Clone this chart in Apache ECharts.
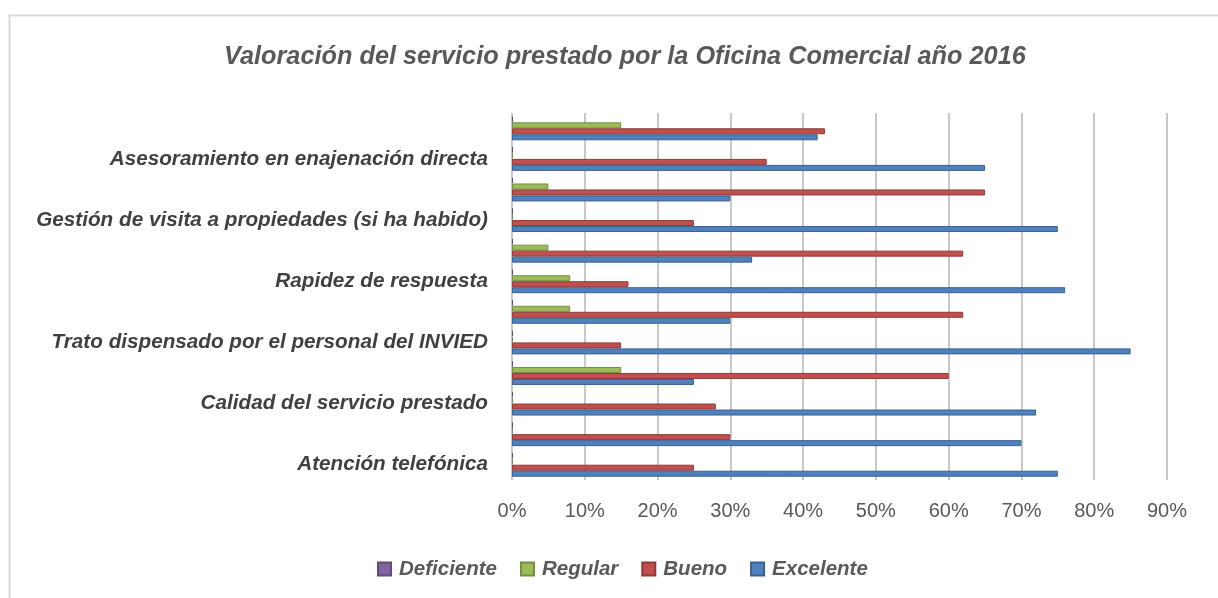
<!DOCTYPE html>
<html>
<head>
<meta charset="utf-8">
<script src="https://cdn.jsdelivr.net/npm/echarts@6/dist/echarts.min.js"></script>
<style>
  html, body { margin: 0; padding: 0; background: #fff; }
  #chart { width: 1218px; height: 598px; }
</style>
</head>
<body>
<div id="chart"></div>
<script>
// categories from bottom to top (only every other one has a visible label)
const categories = [
  'Atención telefónica', 'cat2',
  'Calidad del servicio prestado', 'cat4',
  'Trato dispensado por el personal del INVIED', 'cat6',
  'Rapidez de respuesta', 'cat8',
  'Gestión de visita a propiedades (si ha habido)', 'cat10',
  'Asesoramiento en enajenación directa', 'cat12'
]
const deficiente = [0, 0, 0, 0, 0, 0, 0, 0, 0, 0, 0, 0]
const regular = [0, 0, 0, 15, 0, 8, 8, 5, 0, 5, 0, 15]
const bueno = [25, 30, 28, 60, 15, 62, 16, 62, 25, 65, 35, 43]
const excelente = [75, 70, 72, 25, 85, 30, 76, 33, 75, 30, 65, 42]
const xTicks = [0, 10, 20, 30, 40, 50, 60, 70, 80, 90]

const chartDom = document.getElementById('chart')
const myChart = echarts.init(chartDom)

const barStyle = (color, border) => ({
  color: color,
  borderColor: border,
  borderWidth: 1
})

const option = {
  animation: false,
  title: {
    text: 'Valoración del servicio prestado por la Oficina Comercial año 2016',
    left: 219,
    top: 40,
    textStyle: {
      fontFamily: 'Liberation Sans',
      fontStyle: 'italic',
      fontWeight: 'bold',
      fontSize: 25.3,
      color: '#595959'
    }
  },
  legend: {
    data: ['Deficiente', 'Regular', 'Bueno', 'Excelente'],
    bottom: 14,
    left: 372,
    itemWidth: 13,
    itemHeight: 13,
    itemGap: 23,
    icon: 'rect',
    textStyle: {
      fontFamily: 'Liberation Sans',
      fontStyle: 'italic',
      fontWeight: 'bold',
      fontSize: 20.5,
      color: '#595959',
      padding: [0, 0, 0, 3]
    }
  },
  grid: {
    left: 512,
    right: 51,
    top: 113,
    bottom: 118
  },
  xAxis: {
    type: 'value',
    min: 0,
    max: 90,
    interval: 10,
    axisLine: { show: false },
    axisTick: { show: false },
    axisLabel: {
      margin: 21,
      formatter: v => xTicks.includes(v) ? v + '%' : '',
      fontFamily: 'Liberation Sans',
      fontSize: 20,
      color: '#595959'
    },
    splitLine: {
      lineStyle: { color: '#c8c8c8', width: 2 }
    }
  },
  yAxis: {
    type: 'category',
    data: categories,
    axisLine: { show: false },
    axisTick: { show: false },
    axisLabel: {
      interval: 1,
      margin: 24,
      fontFamily: 'Liberation Sans',
      fontStyle: 'italic',
      fontWeight: 'bold',
      fontSize: 20.7,
      color: '#404040'
    }
  },
  series: [
    {
      name: 'Deficiente',
      type: 'bar',
      data: deficiente,
      barWidth: 6,
      barGap: '0%',
      barMinHeight: 1,
      itemStyle: barStyle('#8064a2', '#5f4a7a')
    },
    {
      name: 'Regular',
      type: 'bar',
      data: regular,
      barWidth: 6,
      barGap: '0%',
      barMinHeight: 1,
      itemStyle: barStyle('#9bbb59', '#76903f')
    },
    {
      name: 'Bueno',
      type: 'bar',
      data: bueno,
      barWidth: 6,
      barGap: '0%',
      itemStyle: barStyle('#c0504d', '#8f3a38')
    },
    {
      name: 'Excelente',
      type: 'bar',
      data: excelente,
      barWidth: 6,
      barGap: '0%',
      itemStyle: barStyle('#4f81bd', '#3a6190')
    }
  ],
  graphic: [
    {
      type: 'rect',
      left: 7,
      top: 13,
      shape: { width: 1230, height: 620 },
      style: { fill: 'none', stroke: '#d9d9d9', lineWidth: 2 },
      z: -1
    }
  ]
}

myChart.setOption(option)
</script>
</body>
</html>
